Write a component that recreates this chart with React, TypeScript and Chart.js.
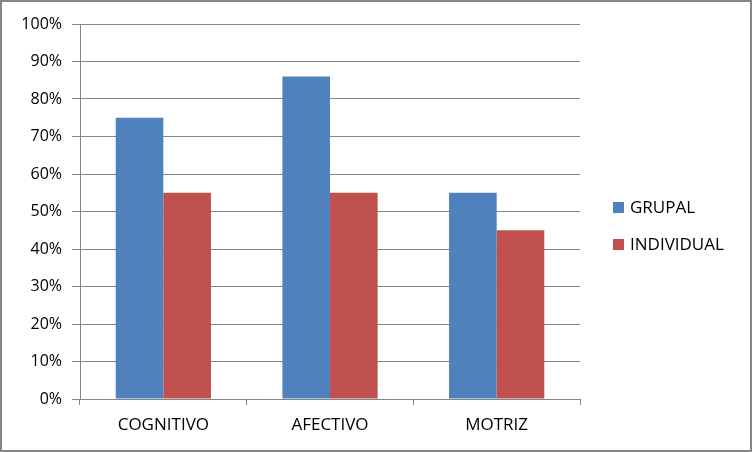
import React, { useEffect, useRef } from "react";
import { Chart, registerables } from "chart.js";

Chart.register(...registerables);

const categories = ["COGNITIVO", "AFECTIVO", "MOTRIZ"];
const grupal = [75, 86, 55];
const individual = [55, 55, 45];
const seriesNames = ["GRUPAL", "INDIVIDUAL"];
const seriesColors = ["#4F81BD", "#C0504D"];

const FONT = "'Open Sans', sans-serif";

const customLegend = {
  id: "customLegend",
  afterDraw(chart: any) {
    const ctx = chart.ctx;
    const ds = chart.data.datasets;
    const gap = 37;
    const startY = chart.height / 2 - ((ds.length - 1) * gap) / 2;
    const boxX = chart.chartArea.right + 33;
    ctx.save();
    ctx.font = `17px ${FONT}`;
    ctx.textBaseline = "middle";
    ds.forEach((d: any, i: number) => {
      const y = startY + i * gap;
      ctx.fillStyle = d.backgroundColor;
      ctx.fillRect(boxX, y - 5.5, 11, 11);
      ctx.fillStyle = "#000";
      ctx.fillText(d.label, boxX + 17, y + 1);
    });
    ctx.restore();
  },
};

export default function App() {
  const ref = useRef<HTMLCanvasElement>(null);
  useEffect(() => {
    if (!ref.current) return;
    const chart = new Chart(ref.current, {
      type: "bar",
      data: {
        labels: categories,
        datasets: [
          { label: seriesNames[0], data: grupal, backgroundColor: seriesColors[0] },
          { label: seriesNames[1], data: individual, backgroundColor: seriesColors[1] },
        ],
      },
      options: {
        responsive: false,
        animation: false,
        devicePixelRatio: 1,
        layout: { padding: { top: 22, right: 170, left: 0, bottom: 0 } },
        datasets: { bar: { categoryPercentage: 2 / 3.5, barPercentage: 1 } },
        plugins: { legend: { display: false }, tooltip: { enabled: false } },
        scales: {
          x: {
            afterFit(scale: any) {
              scale.height = 51;
            },
            grid: {
              offset: true,
              drawOnChartArea: false,
              drawTicks: true,
              tickLength: 6,
              color: "#868686",
            },
            border: { color: "#868686", width: 1 },
            ticks: { color: "#000", font: { family: FONT, size: 17 }, padding: 10 },
          },
          y: {
            min: 0,
            max: 100,
            afterFit(scale: any) {
              scale.width = 78;
            },
            grid: { color: "#868686", tickLength: 8, drawTicks: true },
            border: { color: "#868686", width: 1 },
            ticks: {
              stepSize: 10,
              color: "#000",
              font: { family: FONT, size: 16 },
              padding: 10,
              callback: (v: any) => `${v}%`,
            },
          },
        },
      },
      plugins: [customLegend],
    });
    return () => chart.destroy();
  }, []);
  return (
    <div
      style={{
        position: "absolute",
        left: 0,
        top: 0,
        width: 752,
        height: 452,
        boxSizing: "border-box",
        border: "2px solid #868686",
        background: "#fff",
      }}
    >
      <canvas ref={ref} width={748} height={448} style={{ display: "block" }} />
    </div>
  );
}
